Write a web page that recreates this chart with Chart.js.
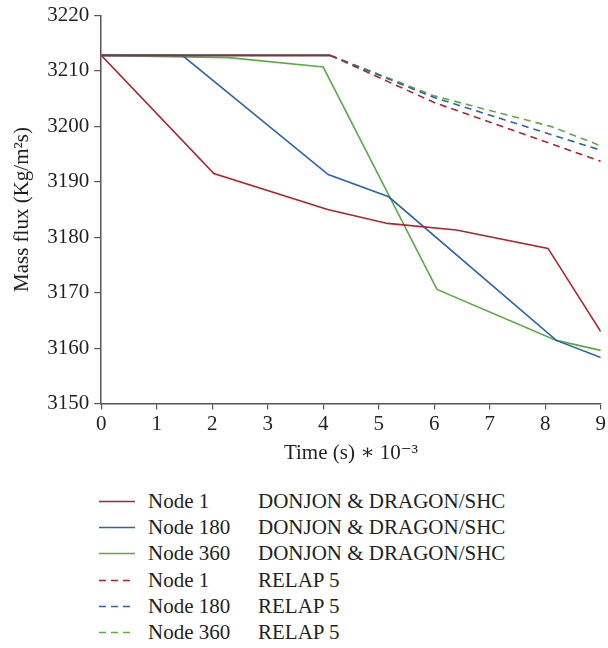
<!DOCTYPE html>
<html>
<head>
<meta charset="utf-8">
<script src="https://cdn.jsdelivr.net/npm/chart.js@4/dist/chart.umd.min.js"></script>
<style>
  html, body { margin: 0; padding: 0; background: #ffffff; }
  body { width: 608px; height: 648px; position: relative; overflow: hidden; font-family: "Liberation Serif", "DejaVu Serif", serif; color: #231f20; }
  #wrap { position: absolute; left: 0; top: 0; width: 608px; height: 466px; }
  #legend { position: absolute; left: 0; top: 488px; width: 608px; }
  .row { position: relative; height: 26.2px; font-size: 21px; line-height: 26.2px; }
  .row canvas { position: absolute; left: 99px; top: 8px; }
  .row .n { position: absolute; left: 148px; top: 0; }
  .row .s { position: absolute; left: 258px; top: 0; }
</style>
</head>
<body>
<div id="wrap"><canvas id="c"></canvas></div>
<div id="legend"></div>
<script>
// ---- data ----
const xTicks = [0, 1, 2, 3, 4, 5, 6, 7, 8, 9];
const yTicks = [3150, 3160, 3170, 3180, 3190, 3200, 3210, 3220];

const node1DonjonTime  = [0, 2.03, 4.08, 5.16, 6.4, 8.05, 9];
const node1DonjonFlux  = [3212.8, 3191.5, 3185.0, 3182.5, 3181.3, 3178.0, 3163.0];

const node180DonjonTime = [0, 1.46, 4.09, 5.18, 8.2, 9];
const node180DonjonFlux = [3212.8, 3212.8, 3191.3, 3187.3, 3161.4, 3158.3];

const node360DonjonTime = [0, 2.3, 4.0, 6.05, 8.2, 9];
const node360DonjonFlux = [3212.8, 3212.4, 3210.7, 3170.6, 3161.4, 3159.6];

const node1RelapTime  = [0, 4.13, 6.0, 9];
const node1RelapFlux  = [3212.8, 3212.8, 3204.3, 3193.7];

const node180RelapTime = [0, 4.13, 6.0, 9];
const node180RelapFlux = [3212.8, 3212.8, 3205.2, 3195.7];

const node360RelapTime = [0, 4.13, 6.0, 8.1, 9];
const node360RelapFlux = [3212.8, 3212.8, 3205.5, 3200.0, 3196.5];

const nodeNames = ["Node 1", "Node 180", "Node 360", "Node 1", "Node 180", "Node 360"];
const codeNames = ["DONJON & DRAGON/SHC", "DONJON & DRAGON/SHC", "DONJON & DRAGON/SHC", "RELAP 5", "RELAP 5", "RELAP 5"];

// ---- styles ----
const RED = "#b3222b", BLUE = "#2c63b0", GREEN = "#5cab45";
const DASH = [7, 5];
const FONT = "'Liberation Serif', 'DejaVu Serif', serif";

function pts(xs, ys) { return xs.map((x, i) => ({ x: x, y: ys[i] })); }

const series = [
  { t: node1DonjonTime,   f: node1DonjonFlux,   c: RED,   dash: [], order: 3 },
  { t: node180DonjonTime, f: node180DonjonFlux, c: BLUE,  dash: [], order: 4 },
  { t: node360DonjonTime, f: node360DonjonFlux, c: GREEN, dash: [], order: 5 },
  { t: node1RelapTime,    f: node1RelapFlux,    c: RED,   dash: DASH, order: 0 },
  { t: node180RelapTime,  f: node180RelapFlux,  c: BLUE,  dash: DASH, order: 1 },
  { t: node360RelapTime,  f: node360RelapFlux,  c: GREEN, dash: DASH, order: 2 }
];

const datasets = series.map((s, i) => ({
  label: nodeNames[i] + " " + codeNames[i],
  data: pts(s.t, s.f),
  borderColor: s.c,
  backgroundColor: s.c,
  borderWidth: 1.6,
  borderDash: s.dash,
  pointRadius: 0,
  tension: 0,
  fill: false,
  order: s.order,
  segment: s.dash.length ? { borderDash: ctx => (ctx.p0DataIndex === 0 ? [] : s.dash) } : undefined
}));

new Chart(document.getElementById("c"), {
  type: "line",
  data: { datasets: datasets },
  options: {
    responsive: true,
    maintainAspectRatio: false,
    animation: false,
    layout: { padding: { top: 3, right: 3, left: 10, bottom: 0 } },
    plugins: { legend: { display: false }, tooltip: { enabled: false } },
    scales: {
      x: {
        type: "linear",
        min: 0, max: 9,
        afterBuildTicks: axis => { axis.ticks = xTicks.map(v => ({ value: v })); },
        ticks: { color: "#231f20", font: { family: FONT, size: 21 }, padding: 2, maxRotation: 0, callback: v => String(v) },
        grid: { drawOnChartArea: false, drawTicks: true, tickLength: 6, color: "#555", lineWidth: 1.2 },
        border: { display: true, color: "#555", width: 1.5 },
        title: { display: true, text: "Time (s) \u2217 10\u207B\u00B3", color: "#231f20", font: { family: FONT, size: 21 }, padding: { top: 2, bottom: 0 } }
      },
      y: {
        type: "linear",
        min: 3150, max: 3220,
        afterBuildTicks: axis => { axis.ticks = yTicks.map(v => ({ value: v })); },
        ticks: { color: "#231f20", font: { family: FONT, size: 21, lineHeight: 1.0 }, padding: 5, callback: v => String(v) },
        grid: { drawOnChartArea: false, drawTicks: true, tickLength: 7, color: "#555", lineWidth: 1.2 },
        border: { display: true, color: "#555", width: 1.5 },
        title: { display: true, text: "Mass flux (Kg/m\u00B2s)", color: "#231f20", font: { family: FONT, size: 21 }, padding: { top: 0, bottom: 7 } }
      }
    }
  }
});

// ---- legend (HTML, two text columns) ----
const legend = document.getElementById("legend");
series.forEach((s, i) => {
  const row = document.createElement("div");
  row.className = "row";
  const cv = document.createElement("canvas");
  cv.width = 36; cv.height = 10;
  const g = cv.getContext("2d");
  g.strokeStyle = s.c; g.lineWidth = 1.6; g.setLineDash(s.dash);
  g.beginPath(); g.moveTo(0, 5.5); g.lineTo(36, 5.5); g.stroke();
  row.appendChild(cv);
  const n = document.createElement("span"); n.className = "n"; n.textContent = nodeNames[i];
  const c = document.createElement("span"); c.className = "s"; c.textContent = codeNames[i];
  row.appendChild(n); row.appendChild(c);
  legend.appendChild(row);
});
</script>
</body>
</html>
